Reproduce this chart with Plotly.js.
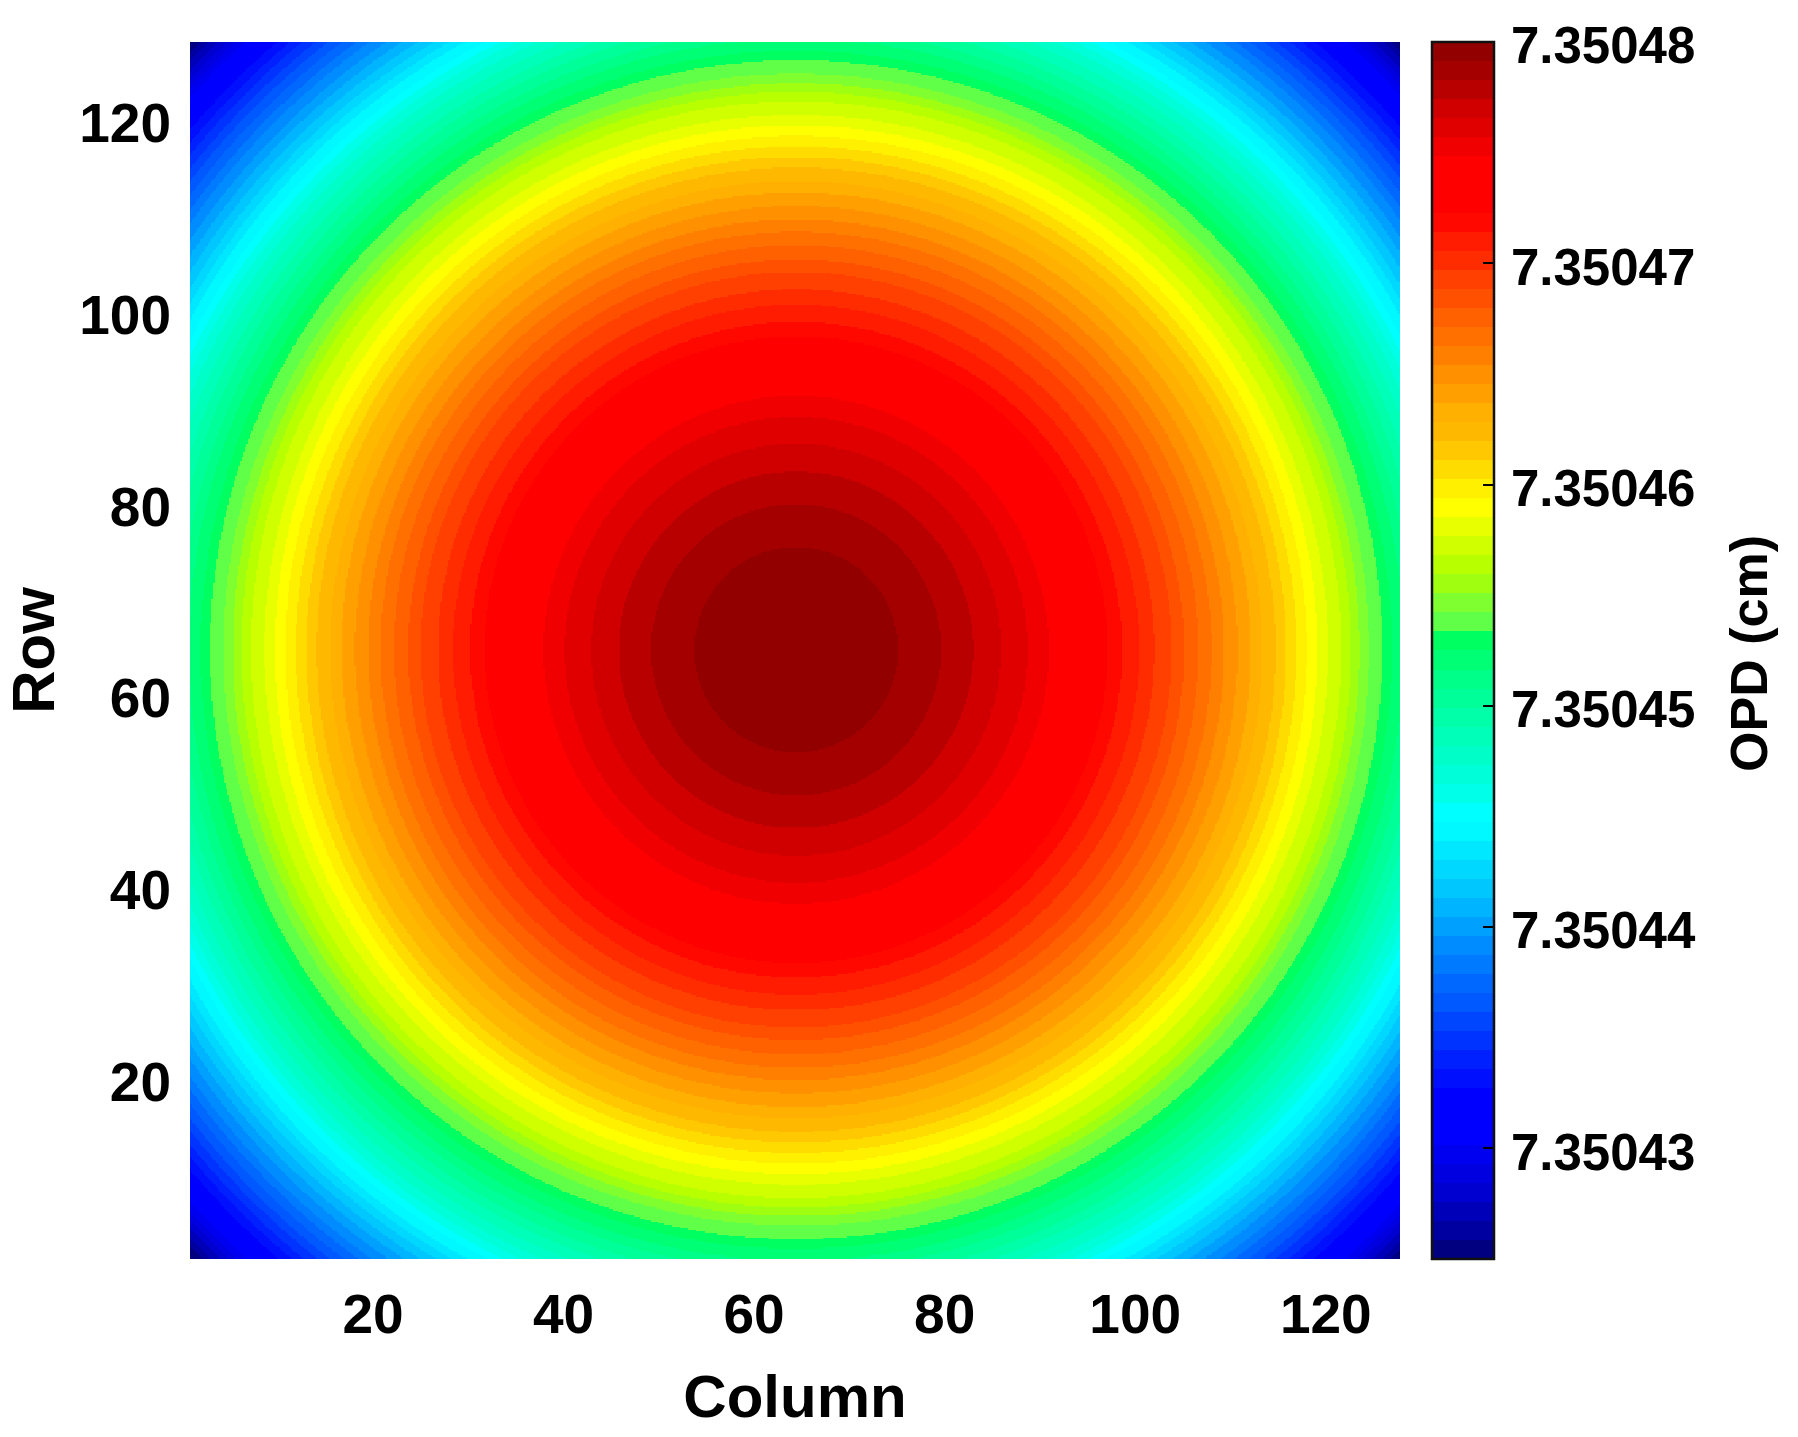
<!DOCTYPE html>
<html>
<head>
<meta charset="utf-8">
<script src="https://cdn.plot.ly/plotly-3.0.0.min.js"></script>
<style>html,body{margin:0;padding:0;background:#fff}#chart{width:1798px;height:1437px}</style>
</head>
<body>
<div id="chart"></div>
<script>
// Centre of the rings (column, row)
var ringCentreColumn = 64.6;
var ringCentreRow = 64.6;

// Outer radius of each OPD band, in pixels of the detector (innermost first)
var ringOuterRadius = [
  10.7,15.2,18.6,21.5,24.3,26.5,28.8,30.8,32.7,34.2,36.0,37.6,39.4,40.7,42.2,43.6,
  44.9,46.3,47.7,48.9,50.3,51.4,52.5,53.6,54.7,55.8,57.2,58.2,59.1,60.1,61.5,62.5,
  63.7,64.7,65.8,66.8,67.9,68.9,69.8,70.6,71.3,72.3,73.1,73.9,74.8,75.7,76.6,77.6,
  78.4,79.3,80.2,81.0,81.9,82.7,83.6,84.3,85.0,85.8,86.5,87.1,87.7,88.4,89.0
];

// OPD of each band, in cm (innermost first)
var bandOpd = [
  7.35047957,7.35047871,7.35047785,7.35047699,7.35047613,7.35047527,7.35047441,7.35047355,
  7.35047270,7.35047184,7.35047098,7.35047012,7.35046926,7.35046840,7.35046754,7.35046668,
  7.35046582,7.35046496,7.35046410,7.35046324,7.35046238,7.35046152,7.35046066,7.35045980,
  7.35045895,7.35045809,7.35045723,7.35045637,7.35045551,7.35045465,7.35045379,7.35045293,
  7.35045207,7.35045121,7.35045035,7.35044949,7.35044863,7.35044777,7.35044691,7.35044605,
  7.35044520,7.35044434,7.35044348,7.35044262,7.35044176,7.35044090,7.35044004,7.35043918,
  7.35043832,7.35043746,7.35043660,7.35043574,7.35043488,7.35043402,7.35043316,7.35043230,
  7.35043145,7.35043059,7.35042973,7.35042887,7.35042801,7.35042715,7.35042629,7.35042543
];

// Colour of each band (same order)
var bandColors = [
  '#930000','#a40000','#b80000','#d00000','#e00000','#f00000','#ff0000','#ff0000',
  '#ff0000','#ff0800','#ff1c00','#ff2c00','#ff4000','#ff5000','#ff6000','#ff7000',
  '#ff8000','#ff9000','#ffa000','#ffb000','#ffb800','#ffc800','#ffdc00','#fff000',
  '#ffff00','#e8ff00','#d0ff00','#b8ff00','#a0ff10','#80ff30','#60ff48','#00ff60',
  '#00ff74','#00ff88','#00ff98','#00ffa8','#00ffb8','#00ffc8','#00ffd8','#00ffe8',
  '#00ffff','#00f8ff','#00e8ff','#00d8ff','#00c8ff','#00b4ff','#00a0ff','#008cff',
  '#007aff','#0068ff','#0058ff','#0045ff','#0033ff','#0020ff','#0010ff','#0000ff',
  '#0000ff','#0000ff','#0000f0','#0000e0','#0000d0','#0000b8','#0000a0','#000080'
];

var xTickVals = [20,40,60,80,100,120];
var yTickVals = [20,40,60,80,100,120];
var opdTickVals = [7.35043,7.35044,7.35045,7.35046,7.35047,7.35048];
var opdTickText = ['7.35043','7.35044','7.35045','7.35046','7.35047','7.35048'];
var opdMin = 7.350425;
var opdMax = 7.35048;

var gridPos = [];
for (var g = 6; g <= 768; g++) gridPos.push(g / 6);

var z = gridPos.map(function (row) {
  return gridPos.map(function (col) {
    var r = Math.hypot(col - ringCentreColumn, row - ringCentreRow);
    for (var k = 0; k < ringOuterRadius.length; k++) {
      if (r <= ringOuterRadius[k]) return bandOpd[k];
    }
    return bandOpd[bandOpd.length - 1];
  });
});

var n = bandColors.length;
var colorscale = [];
for (var i = 0; i < n; i++) {
  var c = bandColors[n - 1 - i];
  colorscale.push([i / n, c]);
  colorscale.push([(i + 1) / n, c]);
}

var font = 'Liberation Sans, Arial, sans-serif';
Plotly.newPlot('chart', [{
  type: 'heatmap',
  x: gridPos, y: gridPos, z: z,
  zsmooth: false, zmin: opdMin, zmax: opdMax,
  colorscale: colorscale,
  colorbar: {
    x: (1432 - 190) / 1210, xanchor: 'left', xpad: 0,
    y: 0, yanchor: 'bottom', ypad: 0,
    lenmode: 'pixels', len: 1217,
    thicknessmode: 'pixels', thickness: 62,
    outlinecolor: '#111', outlinewidth: 2.5,
    ticks: 'inside', ticklen: 12, tickwidth: 2, tickcolor: '#000',
    tickmode: 'array', tickvals: opdTickVals, ticktext: opdTickText,
    tickprefix: '\u00a0',
    tickfont: {family: font, size: 51, color: '#000', weight: 'bold'},
    title: {text: 'OPD (cm)', side: 'right', font: {family: font, size: 52, color: '#000', weight: 'bold'}}
  }
}], {
  width: 1798, height: 1437,
  margin: {l: 190, r: 398, t: 42, b: 178, pad: 0},
  paper_bgcolor: '#fff', plot_bgcolor: '#fff',
  xaxis: {
    range: [1, 128], tickmode: 'array', tickvals: xTickVals, ticks: '', showgrid: false, zeroline: false,
    showline: false, ticklabelstandoff: 18, ticklabelshift: 2, automargin: false,
    tickfont: {family: font, size: 55, color: '#000', weight: 'bold'},
    title: {text: 'Column', standoff: 30, font: {family: font, size: 60, color: '#000', weight: 'bold'}}
  },
  yaxis: {
    range: [1, 128], tickmode: 'array', tickvals: yTickVals, ticks: '', showgrid: false, zeroline: false,
    showline: false, ticklabelstandoff: 18, automargin: false,
    tickfont: {family: font, size: 55, color: '#000', weight: 'bold'},
    title: {text: 'Row', standoff: 22, font: {family: font, size: 60, color: '#000', weight: 'bold'}}
  }
}, {displayModeBar: false, staticPlot: true}).then(function () {
  // Small label nudges: the reference labels sit a few pixels below their tick positions
  document.querySelectorAll('.colorbar text').forEach(function (t) {
    if (t.closest('.cbtitle')) {
      t.setAttribute('dy', '28'); t.setAttribute('dx', '-3');
    } else {
      t.setAttribute('dy', '3.5'); t.setAttribute('dx', '5');
    }
  });
  document.querySelectorAll('.yaxislayer-above .ytick text').forEach(function (t) {
    t.setAttribute('dy', '4.5');
  });
});
</script>
</body>
</html>
